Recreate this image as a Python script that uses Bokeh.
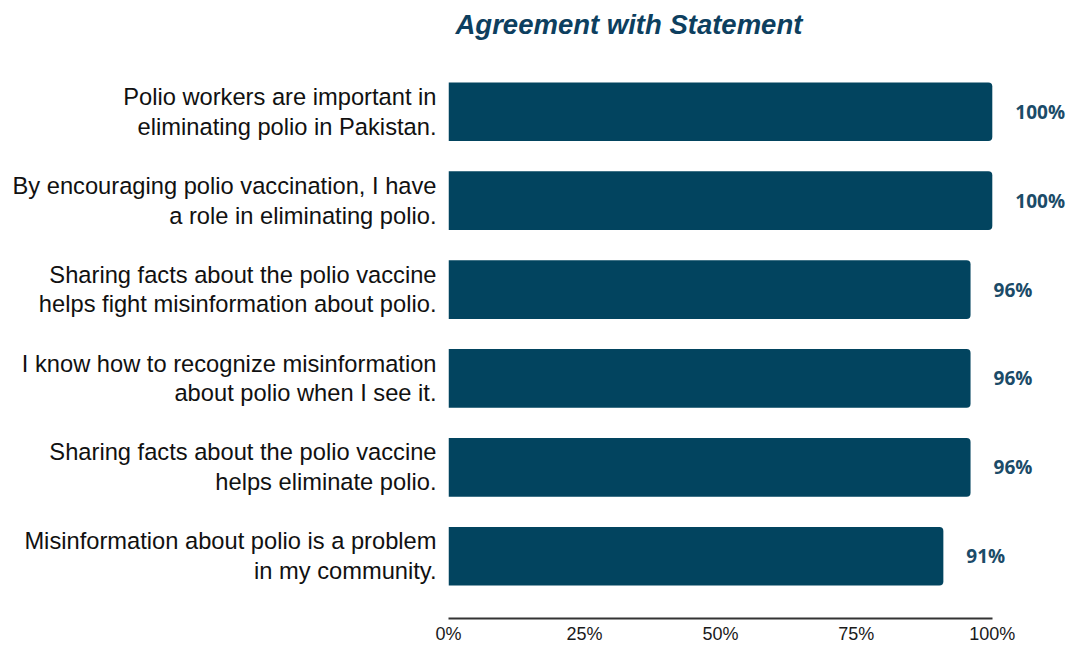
from bokeh.plotting import figure
from bokeh.models import Range1d, FixedTicker, ColumnDataSource
from bokeh.embed import file_html
from bokeh.resources import INLINE
from bokeh.core.properties import value

categories = [
    "Polio workers are important in\neliminating polio in Pakistan.",
    "By encouraging polio vaccination, I have\na role in eliminating polio.",
    "Sharing facts about the polio vaccine\nhelps fight misinformation about polio.",
    "I know how to recognize misinformation\nabout polio when I see it.",
    "Sharing facts about the polio vaccine\nhelps eliminate polio.",
    "Misinformation about polio is a problem\nin my community.",
]
values = [100, 100, 96, 96, 96, 91]
value_labels = ["100%", "100%", "96%", "96%", "96%", "91%"]
x_ticks = [0, 25, 50, 75, 100]
x_tick_labels = ["0%", "25%", "50%", "75%", "100%"]

positions = list(range(len(categories)))
src = ColumnDataSource(dict(y=positions, v=values, lab=value_labels))

p = figure(width=1075, height=646, output_backend="svg", toolbar_location=None,
           x_range=Range1d(0, 115.3), y_range=Range1d(5.70, -0.70),
           min_border_left=448, min_border_right=0, min_border_top=0, min_border_bottom=0)

p.title.text = "Agreement with Statement"
p.title.align = "left"
p.title.vertical_align = "top"
p.title.offset = 7
p.title.text_font = "Liberation Sans"
p.title.text_font_size = "27.5px"
p.title.text_font_style = "bold italic"
p.title.text_color = "#0D3F5F"
p.title.standoff = 16

p.hbar(y="y", right="v", left=0, height=0.66, source=src, fill_color="#02445F",
       line_color=None, border_radius=(0, 4, 4, 0))

p.text(x="v", y="y", text="lab", source=src, x_offset=23, text_align="left",
       text_baseline="middle", text_font=value("Open Sans"), text_font_style="bold",
       text_font_size="19px", text_color="#1B4B68")

p.xaxis.ticker = FixedTicker(ticks=x_ticks)
p.xaxis.bounds = (0, 100)
p.xaxis.major_label_overrides = {t: l for t, l in zip(x_ticks, x_tick_labels)}
p.xaxis.axis_line_color = "#333333"
p.xaxis.axis_line_width = 2
p.xaxis.major_tick_line_color = None
p.xaxis.minor_tick_line_color = None
p.xaxis.major_tick_out = 0
p.xaxis.major_tick_in = 0
p.xaxis.minor_tick_out = 0
p.xaxis.minor_tick_in = 0
p.xaxis.major_label_text_font = "Liberation Sans"
p.xaxis.major_label_text_font_size = "18px"
p.xaxis.major_label_text_color = "#1A1A1A"
p.xaxis.major_label_standoff = 5

p.yaxis.ticker = FixedTicker(ticks=positions)
p.yaxis.major_label_overrides = {i: c for i, c in zip(positions, categories)}
p.yaxis.axis_line_color = None
p.yaxis.major_tick_line_color = None
p.yaxis.minor_tick_line_color = None
p.yaxis.major_tick_out = 0
p.yaxis.major_tick_in = 0
p.yaxis.minor_tick_out = 0
p.yaxis.minor_tick_in = 0
p.yaxis.major_label_text_font = "Liberation Sans"
p.yaxis.major_label_text_font_size = "23.7px"
p.yaxis.major_label_text_color = "#111111"
p.yaxis.major_label_text_line_height = 1.15
p.yaxis.major_label_standoff = 12

p.xgrid.grid_line_color = None
p.ygrid.grid_line_color = None
p.outline_line_color = None

open("out.html", "w").write(file_html(p, INLINE))
